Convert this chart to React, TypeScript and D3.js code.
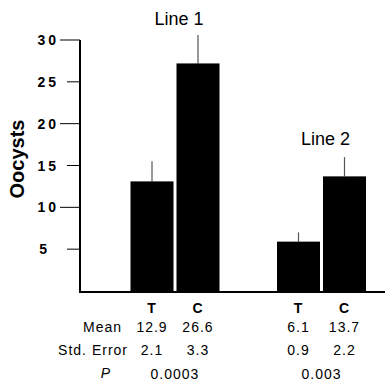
import React, { useEffect, useRef } from "react";
import * as d3 from "d3";

// bar values (height of bar / top of error bar)
const groups = ["Line 1", "Line 2"];
const treatments = ["T", "C"];
const line1Values = [13.1, 27.2];
const line1Errors = [2.4, 3.4];
const line2Values = [5.9, 13.7];
const line2Errors = [1.1, 2.3];

// printed table under the bars
const rowLabels = ["Mean", "Std. Error", "P"];
const line1Mean = ["12.9", "26.6"];
const line1StdErr = ["2.1", "3.3"];
const line2Mean = ["6.1", "13.7"];
const line2StdErr = ["0.9", "2.2"];
const pValues = ["0.0003", "0.003"];

const yTicks = [5, 10, 15, 20, 25, 30];

const FONT = "'Liberation Sans', Arial, Helvetica, sans-serif";

export default function App() {
  const chartRef = useRef<HTMLDivElement>(null);

  useEffect(() => {
    if (!chartRef.current) return;
    d3.select(chartRef.current).selectAll("*").remove();

    const width = 386;
    const height = 384;
    const axisX = 80;

    const svg = d3
      .select(chartRef.current)
      .append("svg")
      .attr("width", width)
      .attr("height", height)
      .style("position", "absolute")
      .style("left", 0)
      .style("top", 0)
      .style("font-family", FONT);

    const y = d3.scaleLinear().domain([0, 30]).range([291, 40]);

    const groupX = d3.scalePoint<string>().domain(groups).range([175, 321.5]);
    const inner = d3
      .scaleBand<string>()
      .domain(treatments)
      .range([-44.5, 44.5])
      .paddingInner(0.065);

    const bars = [
      { g: groups[0], t: treatments[0], v: line1Values[0], e: line1Errors[0] },
      { g: groups[0], t: treatments[1], v: line1Values[1], e: line1Errors[1] },
      { g: groups[1], t: treatments[0], v: line2Values[0], e: line2Errors[0] },
      { g: groups[1], t: treatments[1], v: line2Values[1], e: line2Errors[1] },
    ];
    const barLeft = (d: { g: string; t: string }) =>
      (groupX(d.g) ?? 0) + (inner(d.t) ?? 0);
    const barMid = (d: { g: string; t: string }) =>
      barLeft(d) + inner.bandwidth() / 2;

    // error bars (upward only)
    svg
      .append("g")
      .selectAll("line")
      .data(bars)
      .join("line")
      .attr("x1", barMid)
      .attr("x2", barMid)
      .attr("y1", (d) => y(d.v))
      .attr("y2", (d) => y(d.v + d.e))
      .attr("stroke", "#555")
      .attr("stroke-width", 1.2);

    // bars
    svg
      .append("g")
      .selectAll("rect")
      .data(bars)
      .join("rect")
      .attr("x", barLeft)
      .attr("y", (d) => y(d.v))
      .attr("width", inner.bandwidth())
      .attr("height", (d) => y(0) - y(d.v))
      .attr("fill", "#000");

    // y axis
    const yAxis = svg.append("g");
    yAxis
      .append("line")
      .attr("x1", axisX)
      .attr("x2", axisX)
      .attr("y1", y(30))
      .attr("y2", y(0) + 1)
      .attr("stroke", "#000")
      .attr("stroke-width", 2);
    yAxis
      .selectAll("line.tick")
      .data(yTicks)
      .join("line")
      .attr("class", "tick")
      .attr("x1", (d) => (d % 10 === 0 ? 60 : 67))
      .attr("x2", axisX)
      .attr("y1", (d) => y(d))
      .attr("y2", (d) => y(d))
      .attr("stroke", "#000")
      .attr("stroke-width", 1);
    yAxis
      .selectAll("text")
      .data(yTicks)
      .join("text")
      .attr("x", (d) => (d < 10 ? 50 : 59))
      .attr("y", (d) => y(d))
      .attr("dy", "0.36em")
      .attr("text-anchor", "end")
      .attr("font-size", 14)
      .attr("font-weight", "bold")
      .attr("letter-spacing", 3)
      .text((d) => d.toString());

    svg
      .append("text")
      .attr("transform", `translate(24,${159}) rotate(-90)`)
      .attr("text-anchor", "middle")
      .attr("font-size", 20)
      .attr("font-weight", "bold")
      .text("Oocysts");

    // x baseline
    svg
      .append("line")
      .attr("x1", axisX - 1)
      .attr("x2", 385)
      .attr("y1", y(0) + 1)
      .attr("y2", y(0) + 1)
      .attr("stroke", "#000")
      .attr("stroke-width", 2);

    // group titles above the bars
    const titleY = [25, 145];
    svg
      .append("g")
      .selectAll("text")
      .data(groups)
      .join("text")
      .attr("x", (d) => (groupX(d) ?? 0) + 4)
      .attr("y", (_, i) => titleY[i])
      .attr("text-anchor", "middle")
      .attr("font-size", 18)
      .text((d) => d);

    // table
    const table = svg.append("g").attr("font-size", 14).attr("letter-spacing", 1);
    const cols = [
      { g: groups[0], t: treatments[0], mean: line1Mean[0], se: line1StdErr[0] },
      { g: groups[0], t: treatments[1], mean: line1Mean[1], se: line1StdErr[1] },
      { g: groups[1], t: treatments[0], mean: line2Mean[0], se: line2StdErr[0] },
      { g: groups[1], t: treatments[1], mean: line2Mean[1], se: line2StdErr[1] },
    ];
    table
      .selectAll("text.head")
      .data(cols)
      .join("text")
      .attr("class", "head")
      .attr("x", barMid)
      .attr("y", 313)
      .attr("text-anchor", "middle")
      .attr("font-weight", "bold")
      .text((d) => d.t);
    table
      .selectAll("text.mean")
      .data(cols)
      .join("text")
      .attr("class", "mean")
      .attr("x", barMid)
      .attr("y", 332)
      .attr("text-anchor", "middle")
      .text((d) => d.mean);
    table
      .selectAll("text.se")
      .data(cols)
      .join("text")
      .attr("class", "se")
      .attr("x", barMid)
      .attr("y", 355)
      .attr("text-anchor", "middle")
      .text((d) => d.se);
    table
      .selectAll("text.p")
      .data(groups)
      .join("text")
      .attr("class", "p")
      .attr("x", (d) => groupX(d) ?? 0)
      .attr("y", 379)
      .attr("text-anchor", "middle")
      .text((_, i) => pValues[i]);

    table
      .append("text")
      .attr("x", 122)
      .attr("y", 332)
      .attr("text-anchor", "end")
      .text(rowLabels[0]);
    table
      .append("text")
      .attr("x", 128)
      .attr("y", 355)
      .attr("text-anchor", "end")
      .text(rowLabels[1]);
    table
      .append("text")
      .attr("x", 106)
      .attr("y", 378)
      .attr("text-anchor", "middle")
      .attr("font-style", "italic")
      .text(rowLabels[2]);
  }, []);

  return <div ref={chartRef}></div>;
}
